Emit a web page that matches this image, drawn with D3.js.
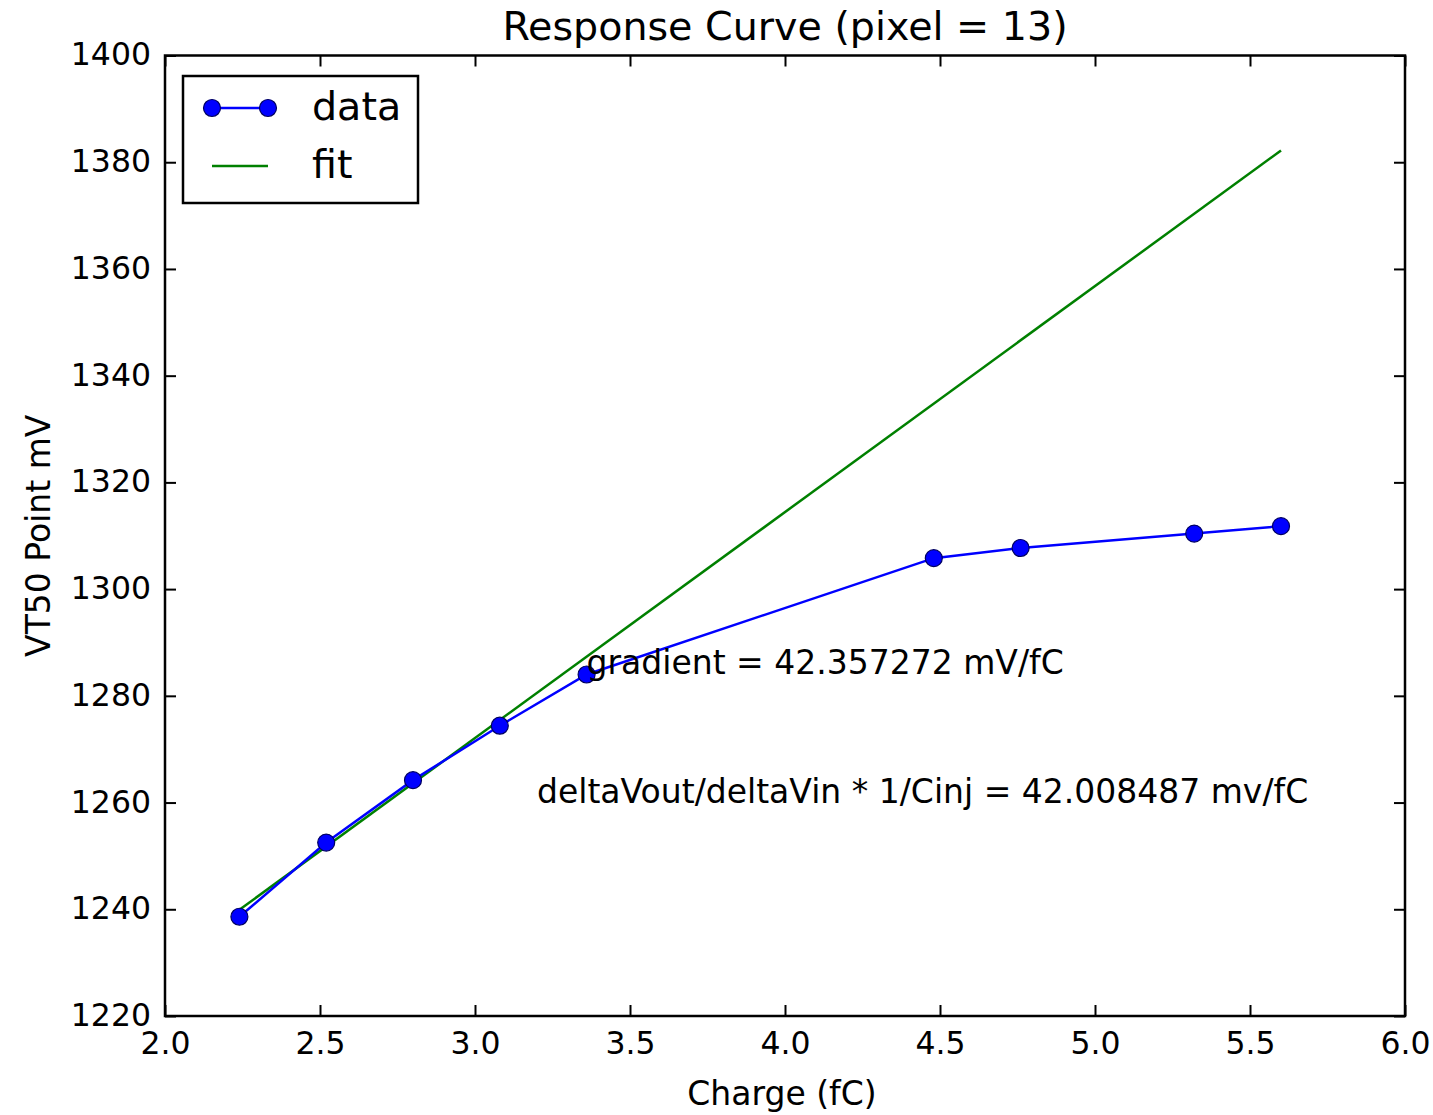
<!DOCTYPE html>
<html><head><meta charset="utf-8">
<script src="https://cdn.jsdelivr.net/npm/d3@7"></script>
<style>
body{margin:0;background:#fff;}
text{font-family:"DejaVu Sans",sans-serif;fill:#000;}
</style></head>
<body><svg id="c" width="1433" height="1115"></svg>
<script>
const charge = [2.24, 2.52, 2.80, 3.08, 3.36, 4.48, 4.76, 5.32, 5.60];
const vt50 = [1238.6, 1252.5, 1264.2, 1274.4, 1284.0, 1305.8, 1307.7, 1310.4, 1311.8];
const fitX = [2.24, 5.60];
const fitY = [1239.9, 1382.2];
const xTicks = [2.0, 2.5, 3.0, 3.5, 4.0, 4.5, 5.0, 5.5, 6.0];
const yTicks = [1220, 1240, 1260, 1280, 1300, 1320, 1340, 1360, 1380, 1400];
const title = "Response Curve (pixel = 13)";
const xLabel = "Charge (fC)";
const yLabel = "VT50 Point mV";
const annot1 = {x: 3.36, y: 1284.0, text: "gradient = 42.357272 mV/fC"};
const annot2 = {x: 3.2, y: 1260, text: "deltaVout/deltaVin * 1/Cinj = 42.008487 mv/fC"};
const legendLabels = ["data", "fit"];

const L = 165, R = 1405, T = 55.5, B = 1016;
const svg = d3.select("#c");
const x = d3.scaleLinear().domain([2, 6]).range([L, R]);
const y = d3.scaleLinear().domain([1220, 1400]).range([B, T]);
const fs = 33, fsT = 31.5, fsL = 39.6, tl = 11;
const blue = "#0000ff", green = "#008000";

// axes with inward ticks on all sides
const fmtX = d3.format(".1f");
const gB = svg.append("g").attr("transform", `translate(0,${B})`)
  .call(d3.axisBottom(x).tickValues(xTicks).tickFormat(fmtX).tickSize(-tl).tickPadding(16));
const gT = svg.append("g").attr("transform", `translate(0,${T})`)
  .call(d3.axisTop(x).tickValues(xTicks).tickFormat("").tickSize(-tl));
const gL = svg.append("g").attr("transform", `translate(${L},0)`)
  .call(d3.axisLeft(y).tickValues(yTicks).tickFormat(d3.format("d")).tickSize(-tl).tickPadding(14));
const gR = svg.append("g").attr("transform", `translate(${R},0)`)
  .call(d3.axisRight(y).tickValues(yTicks).tickFormat("").tickSize(-tl));
[gB, gT, gL, gR].forEach(g => {
  g.select(".domain").remove();
  g.selectAll(".tick line").attr("stroke", "#000").attr("stroke-width", 2);
  g.selectAll("text").style("font-size", fsT + "px").attr("fill", "#111");
});
gL.selectAll("text").attr("dy", "0.3em");

// fit line
const line = d3.line().x(d => x(d[0])).y(d => y(d[1]));
svg.append("path").datum(fitX.map((v, i) => [v, fitY[i]]))
  .attr("d", line).attr("fill", "none").attr("stroke", green).attr("stroke-width", 2.5);

// data line + markers
const pts = charge.map((v, i) => [v, vt50[i]]);
svg.append("path").datum(pts).attr("d", line).attr("fill", "none").attr("stroke", blue).attr("stroke-width", 2.5);
svg.selectAll("circle.pt").data(pts).enter().append("circle").attr("class", "pt")
  .attr("cx", d => x(d[0])).attr("cy", d => y(d[1])).attr("r", 8.5)
  .attr("fill", blue).attr("stroke", "#000060").attr("stroke-width", 1.2);

// frame
svg.append("rect").attr("x", L).attr("y", T).attr("width", R - L).attr("height", B - T)
  .attr("fill", "none").attr("stroke", "#000").attr("stroke-width", 2.5);

// annotations
[annot1, annot2].forEach(a => {
  svg.append("text").attr("x", x(a.x)).attr("y", y(a.y)).style("font-size", fs + "px").attr("fill", "#111").text(a.text);
});

// title and labels
svg.append("text").attr("x", (L + R) / 2).attr("y", 40).attr("text-anchor", "middle").style("font-size", fsL + "px").attr("fill", "#111").text(title);
svg.append("text").attr("x", 782).attr("y", 1105).attr("text-anchor", "middle").style("font-size", fs + "px").attr("fill", "#111").text(xLabel);
svg.append("text").attr("transform", `translate(50,${(T + B) / 2}) rotate(-90)`).attr("text-anchor", "middle").style("font-size", fs + "px").attr("fill", "#111").text(yLabel);

// legend
const lg = svg.append("g");
lg.append("rect").attr("x", 183).attr("y", 76).attr("width", 235).attr("height", 127)
  .attr("fill", "#fff").attr("stroke", "#000").attr("stroke-width", 2.5);
lg.append("line").attr("x1", 212).attr("x2", 268).attr("y1", 108).attr("y2", 108).attr("stroke", blue).attr("stroke-width", 2.5);
[212, 268].forEach(cx => lg.append("circle").attr("cx", cx).attr("cy", 108).attr("r", 8.5).attr("fill", blue).attr("stroke", "#000060").attr("stroke-width", 1.2));
lg.append("line").attr("x1", 212).attr("x2", 268).attr("y1", 166).attr("y2", 166).attr("stroke", green).attr("stroke-width", 2.5);
lg.append("text").attr("x", 312).attr("y", 120).style("font-size", fsL + "px").attr("fill", "#111").text(legendLabels[0]);
lg.append("text").attr("x", 312).attr("y", 178).style("font-size", fsL + "px").attr("fill", "#111").text(legendLabels[1]);
</script></body></html>
